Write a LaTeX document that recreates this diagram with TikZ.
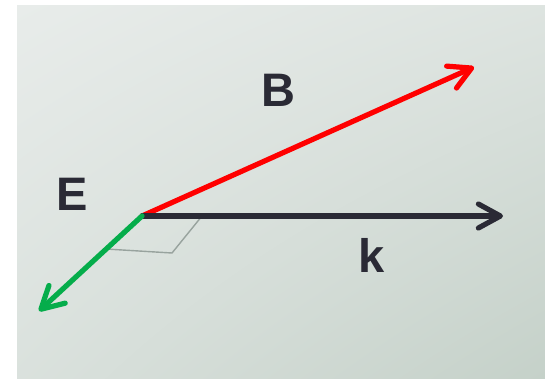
\documentclass[tikz,border=0pt]{standalone}
\usepackage{fontspec}
\setmainfont{Liberation Sans}
\usetikzlibrary{arrows.meta,shadings}
\definecolor{bgtl}{HTML}{E8ECEA}
\definecolor{bgbr}{HTML}{C5D1C9}
\definecolor{vecdark}{HTML}{2A2A35}
\definecolor{vecgreen}{HTML}{05AD4B}
\definecolor{guidegray}{HTML}{98A39E}
\tikzset{
  vec/.style={line width=5.2pt, line cap=round,
    -{Straight Barb[length=22pt, width=24pt, line cap=round, line join=round]}},
  lbl/.style={text=vecdark, font=\fontsize{47}{50}\selectfont\bfseries, inner sep=0pt}
}
\begin{document}
\begin{tikzpicture}[x=1pt, y=-1pt]
    \useasboundingbox (0,0) rectangle (545,378);
    % Background
    \shade[upper left=bgtl, upper right=bgtl!70!bgbr, lower left=bgtl!60!bgbr, lower right=bgbr] (17,5) rectangle (545,378);
    % Points
    \coordinate (o) at (142,216);
    \coordinate (btip) at (474,67);
    \coordinate (ktip) at (503,216);
    \coordinate (etip) at (39,311);
    \coordinate (ep) at (106,249);
    \coordinate (kp) at (202,216);
    \coordinate (corner) at (172,253);
    % Guide lines
    \draw[guidegray, line width=1.4pt] (ep) -- (corner) -- (kp);
    % Vectors
    \draw[vec, red] (o) -- (btip);
    \draw[vec, vecdark] (o) -- (ktip);
    \draw[vec, vecgreen] (o) -- (etip);
    % Labels
    \node[lbl] (blbl) at (278,90) {B};
    \node[lbl] (elbl) at (72,194) {E};
    \node[lbl] (klbl) at (372,255) {k};
\end{tikzpicture}
\end{document}
